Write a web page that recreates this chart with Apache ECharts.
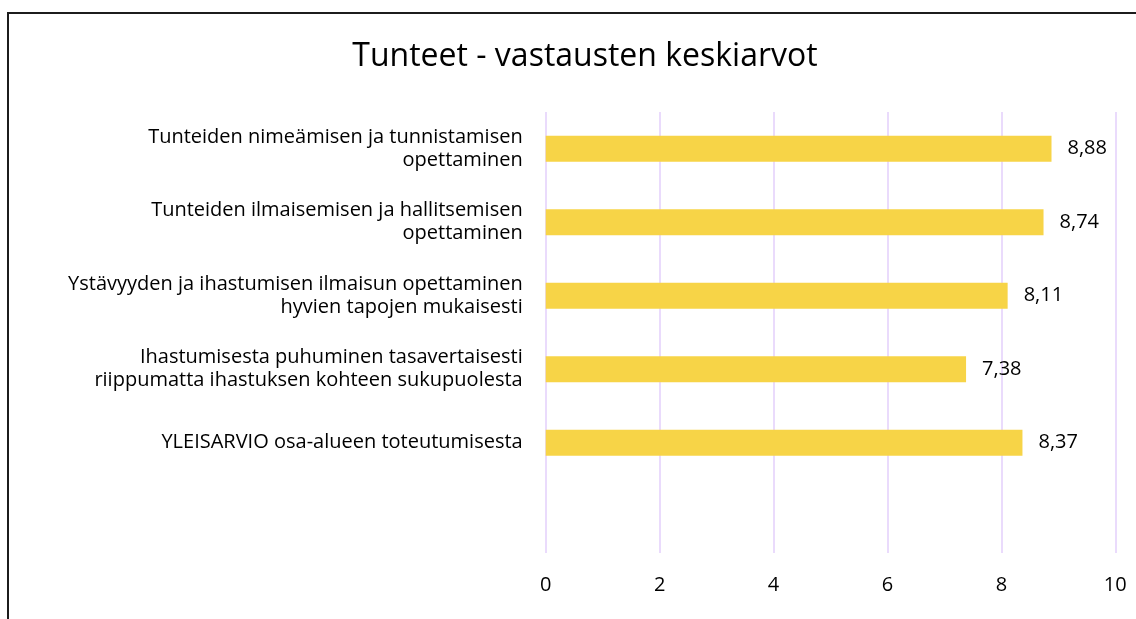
<!DOCTYPE html>
<html>
<head>
<meta charset="utf-8">
<script src="https://cdn.jsdelivr.net/npm/echarts@6/dist/echarts.min.js"></script>
<style>
html,body{margin:0;padding:0;background:#fff;}
#chart{width:1136px;height:619px;}
</style>
</head>
<body>
<div id="chart"></div>
<script>
const titleText = 'Tunteet - vastausten keskiarvot';
const categories = [
  'Tunteiden nimeämisen ja tunnistamisen\nopettaminen',
  'Tunteiden ilmaisemisen ja hallitsemisen\nopettaminen',
  'Ystävyyden ja ihastumisen ilmaisun opettaminen\nhyvien tapojen mukaisesti',
  'Ihastumisesta puhuminen tasavertaisesti\nriippumatta ihastuksen kohteen sukupuolesta',
  'YLEISARVIO osa-alueen toteutumisesta',
  ''
];
const values = [8.88, 8.74, 8.11, 7.38, 8.37, null];
const xTicks = [0, 2, 4, 6, 8, 10];

const chart = echarts.init(document.getElementById('chart'));
const font = '"Open Sans", sans-serif';
chart.setOption({
  animation: false,
  backgroundColor: '#fff',
  title: {
    text: titleText,
    left: 580, top: 36, textAlign: 'center',
    textStyle: {fontFamily: font, fontSize: 32, fontWeight: 'normal', color: '#000'}
  },
  graphic: [{
    type: 'rect',
    shape: {x: 8, y: 13, width: 1300, height: 800},
    style: {fill: 'none', stroke: '#1c1c1c', lineWidth: 2},
    silent: true
  }],
  grid: {left: 545.7, right: 20.7, top: 112, bottom: 66, containLabel: false},
  xAxis: {
    type: 'value', min: 0, max: 10, interval: 2,
    axisLine: {show: false}, axisTick: {show: false},
    splitLine: {show: true, lineStyle: {color: '#e3cffb', width: 1.5}},
    axisLabel: {
      margin: 22, color: '#000', fontFamily: font, fontSize: 20,
      formatter: v => xTicks.includes(v) ? String(v) : ''
    }
  },
  yAxis: {
    type: 'category', data: categories, inverse: true,
    axisLine: {show: false}, axisTick: {show: false},
    axisLabel: {
      margin: 23, color: '#000', fontFamily: font, fontSize: 20,
      lineHeight: 23, align: 'right', interval: 0
    }
  },
  series: [{
    type: 'bar', data: values, barWidth: 26,
    itemStyle: {color: '#f7d447'},
    label: {
      show: true, position: 'right', distance: 16,
      color: '#000', fontFamily: font, fontSize: 20,
      formatter: p => p.value == null ? '' : p.value.toFixed(2).replace('.', ',')
    }
  }]
});
</script>
</body>
</html>
